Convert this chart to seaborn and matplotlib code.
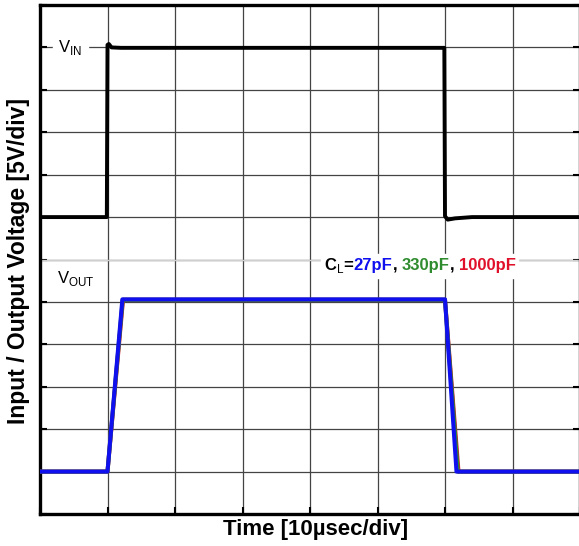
#!/usr/bin/env python3
import pandas as pd
import matplotlib
matplotlib.use("Agg")
import matplotlib.pyplot as plt
import seaborn as sns
from matplotlib.offsetbox import TextArea, HPacker, AnnotationBbox

# time in divisions (10 usec/div), voltage in divisions (5 V/div)
vin_t = [0.0, 0.99, 1.00, 1.02, 1.06, 1.2, 3.0, 5.99, 6.00, 6.04, 6.15, 6.4, 8.0]
vin_v = [7.0, 7.0, 11.06, 11.08, 11.0, 10.99, 10.99, 10.99, 7.02, 6.94, 6.97, 7.0, 7.0]

vout_t = {
    "1000pF": [0.0, 1.0, 1.23, 6.0, 6.20, 8.0],
    "330pF": [0.0, 1.0, 1.225, 6.0, 6.19, 8.0],
    "27pF": [0.0, 1.0, 1.22, 6.0, 6.17, 8.0],
}
vout_v = {
    "1000pF": [1.0, 1.0, 5.05, 5.05, 1.0, 1.0],
    "330pF": [1.0, 1.0, 5.05, 5.05, 1.0, 1.0],
    "27pF": [1.0, 1.0, 5.06, 5.06, 1.0, 1.0],
}
cl_colors = {"27pF": "#1010ee", "330pF": "#2e8b2e", "1000pF": "#e0102a"}

sns.set_theme(style="white")
plt.rcParams["font.family"] = ["Liberation Sans", "DejaVu Sans"]
plt.rcParams["mathtext.fontset"] = "custom"
plt.rcParams["mathtext.rm"] = "Liberation Sans"

fig = plt.figure(figsize=(5.79, 5.46), dpi=100)
ax = fig.add_axes([40 / 579, 32 / 546, 540 / 579, 509 / 546])

vin_df = pd.DataFrame({"t": vin_t, "v": vin_v})
sns.lineplot(data=vin_df, x="t", y="v", ax=ax, color="black", linewidth=2.8,
             estimator=None, sort=False, zorder=3)

for name in ["1000pF", "330pF", "27pF"]:
    df = pd.DataFrame({"t": vout_t[name], "v": vout_v[name]})
    sns.lineplot(data=df, x="t", y="v", ax=ax, color=cl_colors[name],
                 linewidth=2.9, estimator=None, sort=False, zorder=3)

ax.set_xlim(0, 8)
ax.set_ylim(0, 12)
ax.set_xticks(range(0, 9))
ax.set_yticks(range(0, 13))
ax.grid(True, color="#444444", linewidth=0.9)
ax.set_axisbelow(True)
ax.tick_params(direction="in", length=5, width=1.5, color="black",
               left=True, right=True, bottom=True, top=False,
               labelleft=False, labelbottom=False)
for side in ["left", "bottom", "top", "right"]:
    ax.spines[side].set_color("black")
    ax.spines[side].set_linewidth(2.4)
ax.set_xlabel("")
ax.set_ylabel("")

# lighter grid line behind the V_OUT / C_L labels
ax.axhline(6, color="#d0d0d0", linewidth=1.0, zorder=1.5)

ax.text(0.27, 11.0, r"V$_{\mathrm{IN}}$", fontsize=12, va="center", ha="left",
        color="black", backgroundcolor="white", zorder=4)
ax.text(0.25, 5.55, r"V$_{\mathrm{OUT}}$", fontsize=12, va="center", ha="left",
        color="black", backgroundcolor="white", zorder=4)

parts = [
    (r"C$_{\mathrm{L}}$=", "black"),
    ("27pF", cl_colors["27pF"]),
    (", ", "black"),
    ("330pF", cl_colors["330pF"]),
    (", ", "black"),
    ("1000pF", cl_colors["1000pF"]),
]
areas = [TextArea(s, textprops=dict(color=c, fontsize=12, fontweight="bold"))
         for s, c in parts]
box = HPacker(children=areas, align="baseline", pad=0, sep=0)
ab = AnnotationBbox(box, (4.2, 5.85), xycoords="data", box_alignment=(0, 0.5),
                    frameon=True, pad=0.15, zorder=4)
ab.patch.set_edgecolor("white")
ab.patch.set_facecolor("white")
ax.add_artist(ab)

fig.text(316 / 579, 1 - 529 / 546, "Time [10\u00b5sec/div]", fontsize=16,
         fontweight="bold", ha="center", va="center", color="black")
fig.text(19 / 579, 1 - 261 / 546, "Input / Output Voltage [5V/div]", fontsize=16.5,
         fontweight="bold", ha="center", va="center", rotation=90, color="black")

fig.savefig("out.png", dpi=100)
